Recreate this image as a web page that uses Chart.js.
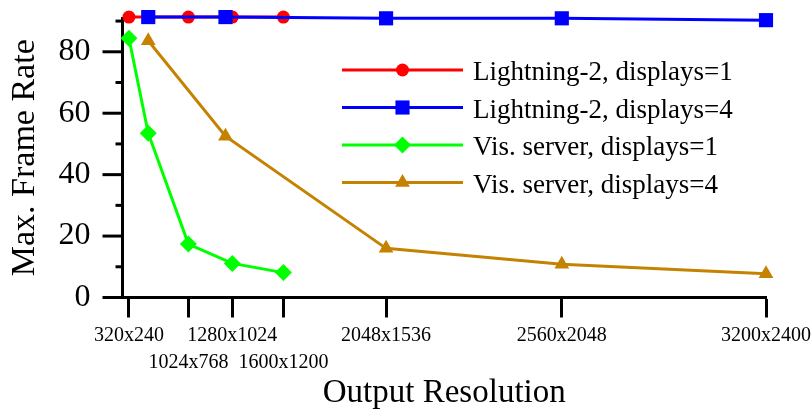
<!DOCTYPE html>
<html>
<head>
<meta charset="utf-8">
<script src="https://cdn.jsdelivr.net/npm/chart.js"></script>
<style>
  body { margin: 0; background: #fff; }
  #wrap { width: 811px; height: 411px; }
</style>
</head>
<body>
<div id="wrap"><canvas id="myChart" width="811" height="411"></canvas></div>
<script>
// tick labels on the x axis (output resolutions) and which row each label sits in
const xTickLabels = ['320x240', '1024x768', '1280x1024', '1600x1200', '2048x1536', '2560x2048', '3200x2400'];
const xLabelRow = [0, 1, 0, 1, 0, 0, 0];
const yMajorTicks = [0, 20, 40, 60, 80];
const yMinorTicks = [10, 30, 50, 70, 90];

// series: resolution + max frame rate
const lightning1Res = ['320x240', '640x480', '1024x768', '1280x1024', '1600x1200'];
const lightning1Fps = [91.3, 91.3, 91.3, 91.3, 91.3];
const lightning4Res = ['640x480', '1280x960', '2048x1536', '2560x2048', '3200x2400'];
const lightning4Fps = [91.3, 91.3, 90.9, 90.9, 90.3];
const visOneRes = ['320x240', '640x480', '1024x768', '1280x1024', '1600x1200'];
const visOneFps = [84.4, 53.5, 17.4, 11.1, 8.1];
const visFourRes = ['640x480', '1280x960', '2048x1536', '2560x2048', '3200x2400'];
const visFourFps = [83.6, 52.5, 16.0, 10.8, 7.7];

// x position = number of pixels (millions)
function mpix(res) {
  const p = res.split('x');
  return (+p[0]) * (+p[1]) / 1e6;
}
function toPoints(res, fps) {
  return res.map((r, i) => ({ x: mpix(r), y: fps[i] }));
}

const serif = '"Liberation Serif", "DejaVu Serif", serif';

const legendBox = {
  id: 'legendBox',
  afterDatasetsDraw(chart) {
    const ctx = chart.ctx;
    const top = 70, gap = 37.5, x0 = 342, x1 = 463, tx = 473;
    ctx.save();
    chart.data.datasets.forEach((ds, i) => {
      const y = top + i * gap;
      ctx.strokeStyle = ds.borderColor;
      ctx.lineWidth = 3;
      ctx.beginPath();
      ctx.moveTo(x0, y);
      ctx.lineTo(x1, y);
      ctx.stroke();
      ctx.fillStyle = ds.pointBackgroundColor;
      Chart.helpers.drawPoint(ctx, {
        pointStyle: ds.pointStyle, radius: ds.pointRadius, rotation: 0, borderWidth: 0
      }, (x0 + x1) / 2, y);
      ctx.fillStyle = '#000';
      ctx.font = '27px ' + serif;
      ctx.textBaseline = 'alphabetic';
      ctx.textAlign = 'left';
      ctx.fillText(ds.label, tx, y + 10);
    });
    ctx.restore();
  }
};

const yTickMarks = {
  id: 'yTickMarks',
  afterDraw(chart) {
    const ctx = chart.ctx;
    const ys = chart.scales.y;
    const left = chart.chartArea.left;
    ctx.save();
    ctx.strokeStyle = '#000';
    ctx.lineWidth = 3;
    yMajorTicks.forEach(v => {
      const py = ys.getPixelForValue(v);
      ctx.beginPath(); ctx.moveTo(left - 20, py); ctx.lineTo(left, py); ctx.stroke();
    });
    yMinorTicks.forEach(v => {
      const py = ys.getPixelForValue(v);
      ctx.beginPath(); ctx.moveTo(left - 7, py); ctx.lineTo(left, py); ctx.stroke();
    });
    ctx.restore();
  }
};

function series(label, res, fps, color, style, radius, order) {
  return {
    label: label,
    data: toPoints(res, fps),
    borderColor: color,
    backgroundColor: color,
    pointBackgroundColor: color,
    pointBorderWidth: 0,
    pointStyle: style,
    pointRadius: radius,
    borderWidth: 3,
    tension: 0,
    clip: false,
    order: order
  };
}

function noPad(s) {
  s.paddingTop = 0; s.paddingBottom = 0; s.paddingLeft = 0; s.paddingRight = 0;
}

const ctx = document.getElementById('myChart');
new Chart(ctx, {
  type: 'line',
  data: {
    datasets: [
      series('Lightning-2, displays=1', lightning1Res, lightning1Fps, '#ff0000', 'circle', 6.5, 4),
      series('Lightning-2, displays=4', lightning4Res, lightning4Fps, '#0000ff', 'rect', 10, 3),
      series('Vis. server, displays=1', visOneRes, visOneFps, '#00ff00', 'rectRot', 8.5, 2),
      series('Vis. server, displays=4', visFourRes, visFourFps, '#c58200', 'triangle', 8.5, 1)
    ]
  },
  options: {
    responsive: false,
    animation: false,
    layout: { padding: { left: 0, right: 45, top: 18, bottom: 0 } },
    plugins: {
      legend: { display: false },
      tooltip: { enabled: false }
    },
    scales: {
      x: {
        type: 'linear',
        min: 0,
        max: mpix('3200x2400'),
        afterBuildTicks: s => { s.ticks = xTickLabels.map(l => ({ value: mpix(l) })); },
        afterFit: s => { s.height = 113.5; noPad(s); },
        border: { display: true, color: '#000', width: 3 },
        grid: { display: true, drawOnChartArea: false, drawTicks: true, tickLength: 20, tickWidth: 3, tickColor: '#000' },
        ticks: {
          autoSkip: false,
          maxRotation: 0,
          minRotation: 0,
          padding: 4,
          color: '#000',
          font: { family: serif, size: 20, lineHeight: 1.38 },
          callback: (v, i) => (xLabelRow[i] === 1 ? ['', xTickLabels[i]] : xTickLabels[i])
        },
        title: {
          display: true,
          text: 'Output Resolution',
          color: '#000',
          font: { family: serif, size: 33, lineHeight: 1 },
          padding: { top: 0, bottom: 1 }
        }
      },
      y: {
        min: 0,
        max: 91,
        afterBuildTicks: s => { s.ticks = yMajorTicks.map(v => ({ value: v })); },
        afterFit: s => { s.width = 122.5; noPad(s); },
        border: { display: true, color: '#000', width: 3 },
        grid: { display: false, drawTicks: true, tickLength: 20 },
        ticks: {
          padding: 12,
          color: '#000',
          font: { family: serif, size: 32 }
        },
        title: {
          display: true,
          text: 'Max. Frame Rate',
          color: '#000',
          font: { family: serif, size: 34, lineHeight: 1.2 },
          padding: { top: 5, bottom: 0 }
        }
      }
    }
  },
  plugins: [legendBox, yTickMarks]
});
</script>
</body>
</html>
